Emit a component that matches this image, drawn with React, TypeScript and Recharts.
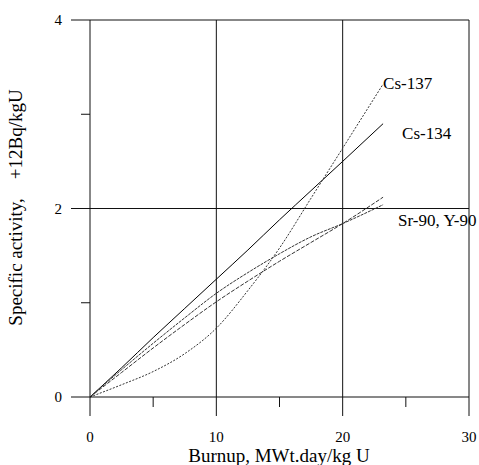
import { LineChart, Line, XAxis, YAxis, ReferenceLine } from "recharts";

// burnup, MWt.day/kg U
const burnup = [0, 2.5, 5, 7.5, 10, 12.5, 15, 17.5, 20, 23.2];
// specific activity, E+12 Bq/kgU
const cs137 = [0, 0.13, 0.27, 0.46, 0.73, 1.13, 1.58, 2.11, 2.64, 3.32];
const cs134 = [0, 0.31, 0.63, 0.94, 1.25, 1.56, 1.88, 2.19, 2.5, 2.9];
const sr90 = [0, 0.29, 0.57, 0.84, 1.1, 1.32, 1.52, 1.7, 1.84, 2.04];
const y90 = [0, 0.26, 0.52, 0.77, 1.01, 1.23, 1.44, 1.64, 1.84, 2.12];

const xTicks = [0, 5, 10, 15, 20, 25, 30];
const yTicks = [0, 1, 2, 3, 4];

const data = burnup.map((b, i) => ({
  burnup: b,
  cs137: cs137[i],
  cs134: cs134[i],
  sr90: sr90[i],
  y90: y90[i],
}));

const FONT = "'Liberation Serif', 'Times New Roman', serif";
const INK = "#111";
const last = burnup.length - 1;

function XTick({ x, y, payload }: any) {
  const major = payload.value % 10 === 0;
  return (
    <g>
      <line x1={x} x2={x} y1={y} y2={y + (major ? 19 : 10)} stroke={INK} />
      {major && (
        <text x={x} y={y + 45} textAnchor="middle" fontSize={15} fontFamily={FONT} fill="#000">
          {payload.value}
        </text>
      )}
    </g>
  );
}

function YTick({ x, y, payload }: any) {
  const major = payload.value % 2 === 0;
  return (
    <g>
      <line x1={x - (major ? 19 : 9)} x2={x} y1={y} y2={y} stroke={INK} />
      {major && (
        <text x={x - 28} y={y + 5} textAnchor="end" fontSize={15} fontFamily={FONT} fill="#000">
          {payload.value}
        </text>
      )}
    </g>
  );
}

const endLabel = (text: string, dx: number, dy: number) => (props: any) => {
  if (props.index !== last) return null;
  return (
    <text x={props.x + dx} y={props.y + dy} fontSize={17} fontFamily={FONT} fill="#000">
      {text}
    </text>
  );
};

export default function App() {
  return (
    <div style={{ position: "absolute", left: 0, top: 0 }}>
      <LineChart width={479} height={465} data={data} margin={{ top: 20, right: 10, bottom: 0, left: 0 }}>
        <XAxis
          dataKey="burnup"
          type="number"
          domain={[0, 30]}
          ticks={xTicks}
          interval={0}
          height={68}
          tickSize={0}
          tickMargin={0}
          tickLine={false}
          axisLine={{ stroke: INK }}
          tick={(p: any) => <XTick {...p} />}
        />
        <YAxis
          type="number"
          domain={[0, 4]}
          ticks={yTicks}
          interval={0}
          width={90}
          tickSize={0}
          tickMargin={0}
          tickLine={false}
          axisLine={{ stroke: INK }}
          tick={(p: any) => <YTick {...p} />}
        />
        <ReferenceLine x={10} stroke={INK} />
        <ReferenceLine x={20} stroke={INK} />
        <ReferenceLine x={30} stroke={INK} />
        <ReferenceLine y={2} stroke={INK} />
        <ReferenceLine y={4} stroke={INK} />
        <Line dataKey="cs134" type="monotone" stroke="#000" strokeWidth={1} dot={false} isAnimationActive={false} label={endLabel("Cs-134", 19, 15)} />
        <Line dataKey="cs137" type="monotone" stroke="#333" strokeWidth={1} strokeDasharray="2 1.5" dot={false} isAnimationActive={false} label={endLabel("Cs-137", 0, 5)} />
        <Line dataKey="sr90" type="monotone" stroke="#333" strokeWidth={1} strokeDasharray="3 1" dot={false} isAnimationActive={false} />
        <Line dataKey="y90" type="monotone" stroke="#333" strokeWidth={1} strokeDasharray="4 1.5" dot={false} isAnimationActive={false} label={endLabel("Sr-90, Y-90", 15, 29)} />
        <text x={279} y={462} textAnchor="middle" fontSize={19} fontFamily={FONT} fill="#000">
          Burnup, MWt.day/kg U
        </text>
        <text
          x={22}
          y={207.5}
          transform="rotate(-90 22 207.5)"
          textAnchor="middle"
          fontSize={19}
          fontFamily={FONT}
          fill="#000"
          style={{ whiteSpace: "pre" }}
        >
          {"Specific activity,    +12Bq/kgU"}
        </text>
      </LineChart>
    </div>
  );
}
